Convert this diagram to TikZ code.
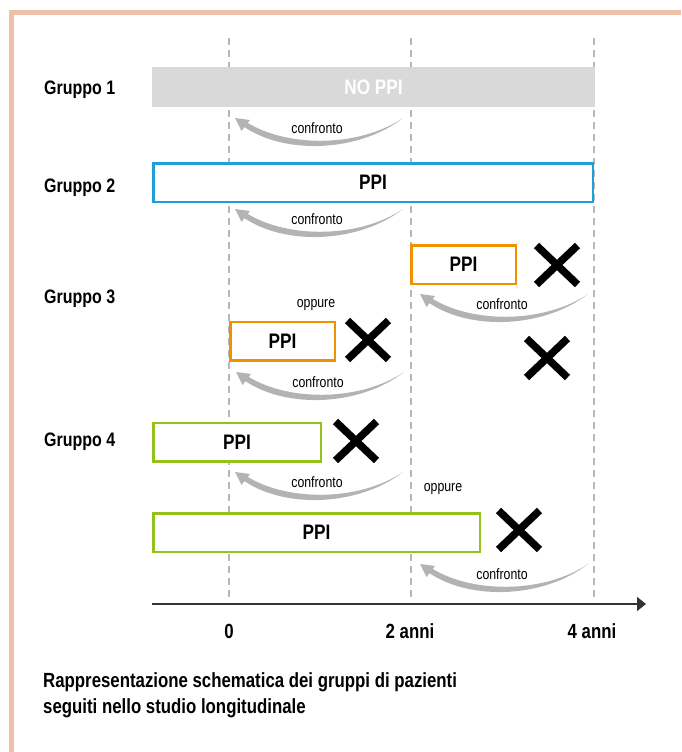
\documentclass[tikz,border=0pt]{standalone}
\usepackage{fontspec}
\setmainfont{Liberation Sans}[FakeStretch=0.82]
\usetikzlibrary{shapes.misc}
\usetikzlibrary{arrows.meta}

\definecolor{rimsalmon}{HTML}{EEBFAB}
\definecolor{ppiblue}{HTML}{1D9FD8}
\definecolor{ppiorange}{HTML}{F29100}
\definecolor{ppigreen}{HTML}{95C11F}
\definecolor{nogray}{HTML}{D9D9D9}
\definecolor{arrowgray}{HTML}{B3B3B3}
\definecolor{dashgray}{HTML}{B8B8B8}

% tapered "confronto" arrow: #1 name, #2/#3 tip of the arrow
\newcommand{\confronto}[3]{
\coordinate (#1) at (#2,#3);
\fill[arrowgray] (#2+9.5,#3+9.2) .. controls (#2+52,#3+37.5) and (#2+125,#3+33.5) .. (#2+168,#3)
 .. controls (#2+125,#3+29) and (#2+54,#3+30) .. (#2+12.5,#3+4.8) -- cycle;
\fill[arrowgray] (#1) -- (#2+6.5,#3+13) -- (#2+15,#3+2) -- cycle;
\node[note] (#1-txt) at (#2+82,#3+10) {confronto};
}

\begin{document}
\begin{tikzpicture}[x=1pt,y=-1pt]

\tikzstyle{grp}=[font=\bfseries\fontsize{19.5}{22}\selectfont, anchor=base west, inner sep=0pt]
\tikzstyle{periodbox}=[rectangle, minimum height=38.5pt, line width=2.5pt, fill=white, font=\bfseries\fontsize{21}{24}\selectfont, inner sep=0pt, outer sep=0pt]
\tikzstyle{stopmark}=[cross out, draw=black, line width=7.5pt, minimum width=41pt, minimum height=39pt, inner sep=0pt, outer sep=0pt]
\tikzstyle{note}=[font=\fontsize{15}{17}\selectfont, inner sep=0pt]
\tikzstyle{ticklabel}=[font=\bfseries\fontsize{20.5}{24}\selectfont, inner sep=0pt]

\useasboundingbox (0,0) rectangle (681,752);

% frame
\fill[rimsalmon] (9,10) rectangle (681,15);
\fill[rimsalmon] (9,10) rectangle (14,752);

% time lines
\foreach \t/\x in {0/229, 2/411, 4/594} {
	\coordinate (top\t) at (\x,38);
	\coordinate (bot\t) at (\x,600);
	\draw[dashgray, line width=1.2pt, dash pattern=on 7pt off 5pt] (top\t) -- (bot\t);
}

% groups
\node[grp] (g1) at (44,94) {Gruppo 1};
\node[grp] (g2) at (44,192) {Gruppo 2};
\node[grp] (g3) at (44,303.5) {Gruppo 3};
\node[grp] (g4) at (44,446.5) {Gruppo 4};

\node[periodbox, fill=nogray, minimum height=40pt, minimum width=443pt, text=white] (nobar) at (373.5,87) {NO PPI};
\confronto{c1}{235}{118}

\node[periodbox, draw=ppiblue, minimum width=439.5pt] (ppi2) at (373,182.5) {PPI};
\confronto{c2}{235}{209}

\node[periodbox, draw=ppiorange, minimum width=104.5pt] (ppi3a) at (463.5,264.5) {PPI};
\node[stopmark] (x3a) at (557,265) {};
\confronto{c3}{420}{294}
\node[stopmark] (x3c) at (547,358) {};
\node[note] (or3) at (316,305) {oppure};
\node[periodbox, draw=ppiorange, minimum width=104.5pt] (ppi3b) at (282.5,341) {PPI};
\node[stopmark] (x3b) at (368,340) {};
\confronto{c4}{236}{372}

\node[periodbox, draw=ppigreen, minimum width=167.5pt] (ppi4a) at (237,442) {PPI};
\node[stopmark] (x4a) at (356,441) {};
\confronto{c5}{235}{472}
\node[note] (or4) at (443,489) {oppure};
\node[periodbox, draw=ppigreen, minimum width=326.5pt] (ppi4b) at (316.5,532.5) {PPI};
\node[stopmark] (x4b) at (519,530) {};
\confronto{c6}{420}{564}

% time axis
\coordinate (ax0) at (152,604);
\coordinate (ax1) at (646,604);
\draw[black!80, line width=1.3pt, -{Triangle[length=9pt,width=14pt]}] (ax0) -- (ax1);
\node[ticklabel] (t0) at (229,631) {0};
\node[ticklabel] (t2) at (410,631) {2 anni};
\node[ticklabel] (t4) at (592,631) {4 anni};

\node[font=\bfseries\fontsize{20.5}{26}\selectfont, align=left, anchor=north west, inner sep=0pt] (caption) at (43,672) {Rappresentazione schematica dei gruppi di pazienti\\seguiti nello studio longitudinale};

\end{tikzpicture}
\end{document}
